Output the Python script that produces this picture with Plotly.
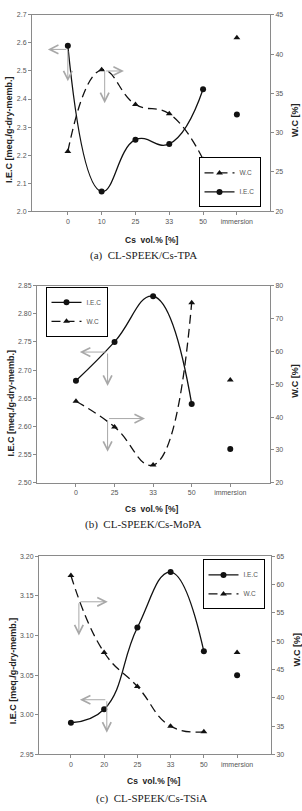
import plotly.graph_objects as go

W, H = 302, 811

# ---------------- data ----------------
# (a) CL-SPEEK/Cs-TPA
cats_a = ["0", "10", "25", "33", "50", "immersion"]
iec_a = [2.59, 2.07, 2.255, 2.24, 2.435]
iec_a_imm = 2.345
wc_a = [27.6, 38.0, 33.6, 32.4, 26.6]
wc_a_imm = 42.1

# (b) CL-SPEEK/Cs-MoPA
cats_b = ["0", "25", "33", "50", "immersion"]
iec_b = [2.681, 2.75, 2.831, 2.64]
iec_b_imm = 2.56
wc_b = [44.8, 37.0, 25.4, 74.8]
wc_b_imm = 51.3

# (c) CL-SPEEK/Cs-TSiA
cats_c = ["0", "20", "25", "33", "50", "immersion"]
iec_c = [2.99, 3.007, 3.11, 3.18, 3.08]
iec_c_imm = 3.05
wc_c = [61.6, 48.0, 42.0, 35.0, 34.0]
wc_c_imm = 48.0

captions = ["(a)  CL-SPEEK/Cs-TPA", "(b)  CL-SPEEK/Cs-MoPA", "(c)  CL-SPEEK/Cs-TSiA"]

# ---------------- style ----------------
AX = "#8a8a8a"
TK = "#555555"
FONT = "Arial, Liberation Sans, sans-serif"
SERIF = "Times New Roman, Liberation Serif, serif"
LINE = "#111111"
DASH = "9px,5px"
SMOOTH = 1.3


def px_x(p):
    return p / W


def px_y(p):
    return 1 - p / H


panels = [
    dict(cats=cats_a, iec=iec_a, iec_imm=iec_a_imm, wc=wc_a, wc_imm=wc_a_imm,
         xd=[32, 270], yd=[11, 209], xr=[-1.06, 5.98], yl=[2.0, 2.7], dl=0.1, fl=".1f",
         yr=[20, 45], dr=5, wc_first=True,
         leg=(229.5, 180), xt=(152, 238), cap=(143, 254), lt=(9, 127), rt=(295, 117)),
    dict(cats=cats_b, iec=iec_b, iec_imm=iec_b_imm, wc=wc_b, wc_imm=wc_b_imm,
         xd=[37, 270], yd=[284, 483], xr=[-1.01, 5.03], yl=[2.50, 2.85], dl=0.05, fl=".2f",
         yr=[20, 80], dr=10, wc_first=False,
         leg=(76.5, 310.5), xt=(152, 509), cap=(143, 525), lt=(11, 403), rt=(295, 380)),
    dict(cats=cats_c, iec=iec_c, iec_imm=iec_c_imm, wc=wc_c, wc_imm=wc_c_imm,
         xd=[39, 271], yd=[557, 757], xr=[-0.96, 6.02], yl=[2.95, 3.20], dl=0.05, fl=".2f",
         yr=[30, 65], dr=5, wc_first=False,
         leg=(233.5, 585.5), xt=(154, 784), cap=(151, 801), lt=(13, 673), rt=(297, 651)),
]

# arrows: (x_head, y_head, x_tail, y_tail) in category-index / left-axis units
arrows = [
    [(-0.59, 2.577, 0.0, 2.577), (0.0, 2.463, 0.0, 2.577),
     (1.09, 2.385, 1.09, 2.506), (1.66, 2.50, 1.09, 2.50)],
    [(0.10, 2.732, 0.82, 2.732), (0.82, 2.672, 0.82, 2.732),
     (0.82, 2.555, 0.82, 2.614), (1.79, 2.614, 0.82, 2.614)],
    [(1.11, 3.1425, 0.24, 3.1425), (0.24, 3.10, 0.24, 3.1425),
     (0.27, 3.019, 1.08, 3.019), (1.08, 2.9775, 1.08, 3.019)],
]

fig = go.Figure()
layout = dict(width=W, height=H, margin=dict(l=0, r=0, t=0, b=0),
              paper_bgcolor="white", plot_bgcolor="white", showlegend=True,
              font=dict(family=FONT, color=TK))
annotations = []

for i, p in enumerate(panels):
    n = i + 1
    xa = "x" if n == 1 else f"x{n}"
    yla = "y" if n == 1 else f"y{2 * n - 1}"
    yra = f"y{2 * n}"
    leg = "legend" if n == 1 else f"legend{n}"
    cats = p["cats"]
    k = len(p["iec"])

    iec_tr = go.Scatter(x=cats[:k], y=p["iec"], xaxis=xa, yaxis=yla, name="I.E.C",
                        mode="lines+markers",
                        line=dict(color=LINE, width=1.3, shape="spline", smoothing=SMOOTH),
                        marker=dict(symbol="circle", size=6, color=LINE), legend=leg)
    wc_tr = go.Scatter(x=cats[:k], y=p["wc"], xaxis=xa, yaxis=yra, name="W.C",
                       mode="lines+markers",
                       line=dict(color=LINE, width=1.3, shape="spline", smoothing=SMOOTH,
                                 dash=DASH),
                       marker=dict(symbol="triangle-up", size=6, color=LINE), legend=leg)
    order = [wc_tr, iec_tr] if p["wc_first"] else [iec_tr, wc_tr]
    for t in order:
        fig.add_trace(t)
    fig.add_trace(go.Scatter(x=[cats[k]], y=[p["iec_imm"]], xaxis=xa, yaxis=yla, mode="markers",
                             marker=dict(symbol="circle", size=6, color=LINE), showlegend=False))
    fig.add_trace(go.Scatter(x=[cats[k]], y=[p["wc_imm"]], xaxis=xa, yaxis=yra, mode="markers",
                             marker=dict(symbol="triangle-up", size=6, color=LINE), showlegend=False))

    xkey = "xaxis" if n == 1 else f"xaxis{n}"
    ylkey = "yaxis" if n == 1 else f"yaxis{2 * n - 1}"
    yrkey = f"yaxis{2 * n}"
    common = dict(showline=True, linecolor=AX, linewidth=1, ticks="outside", ticklen=3,
                  tickwidth=1, tickcolor=AX, showgrid=False, zeroline=False,
                  tickfont=dict(size=7, color=TK, family=FONT))
    layout[xkey] = dict(domain=[px_x(p["xd"][0]), px_x(p["xd"][1])], anchor=yla,
                        type="category", categoryorder="array", categoryarray=cats,
                        range=p["xr"], mirror=True, **common)
    layout[ylkey] = dict(domain=[px_y(p["yd"][1]), px_y(p["yd"][0])], anchor=xa,
                         range=p["yl"], dtick=p["dl"], tick0=p["yl"][0], tickformat=p["fl"],
                         **common)
    layout[yrkey] = dict(overlaying=yla, side="right", anchor=xa, range=p["yr"],
                         dtick=p["dr"], tick0=p["yr"][0], **common)
    layout[leg] = dict(x=px_x(p["leg"][0]), y=px_y(p["leg"][1]), xanchor="center",
                       yanchor="middle", bordercolor="black", borderwidth=1, bgcolor="white",
                       font=dict(size=6.5, color=TK, family=FONT), itemwidth=30,
                       tracegroupgap=0, traceorder="normal")

    # texts
    annotations.append(dict(text="<b>Cs  vol.% [%]</b>", x=px_x(p["xt"][0]), y=px_y(p["xt"][1]),
                            xref="paper", yref="paper", showarrow=False, xanchor="center",
                            yanchor="middle", font=dict(size=8.5, color="#222", family=FONT)))
    annotations.append(dict(text=captions[i], x=px_x(p["cap"][0]), y=px_y(p["cap"][1]),
                            xref="paper", yref="paper", showarrow=False, xanchor="center",
                            yanchor="middle", font=dict(size=11, color="#222", family=SERIF)))
    annotations.append(dict(text="<b>I.E.C [meq./g-dry-memb.]</b>", x=px_x(p["lt"][0]),
                            y=px_y(p["lt"][1]), xref="paper", yref="paper", showarrow=False,
                            textangle=-90, xanchor="center", yanchor="middle",
                            font=dict(size=9, color="#222", family=FONT)))
    annotations.append(dict(text="<b>W.C [%]</b>", x=px_x(p["rt"][0]), y=px_y(p["rt"][1]),
                            xref="paper", yref="paper", showarrow=False, textangle=-90,
                            xanchor="center", yanchor="middle",
                            font=dict(size=9, color="#222", family=FONT)))
    for (hx, hy, tx, ty) in arrows[i]:
        annotations.append(dict(x=hx, y=hy, ax=tx, ay=ty, xref=xa, yref=yla, axref=xa,
                                ayref=yla, text="", showarrow=True, arrowhead=5,
                                arrowsize=1.7, arrowwidth=1, arrowcolor="#a8a8a8"))

layout["annotations"] = annotations
fig.update_layout(**layout)
fig.write_html("out.html")
